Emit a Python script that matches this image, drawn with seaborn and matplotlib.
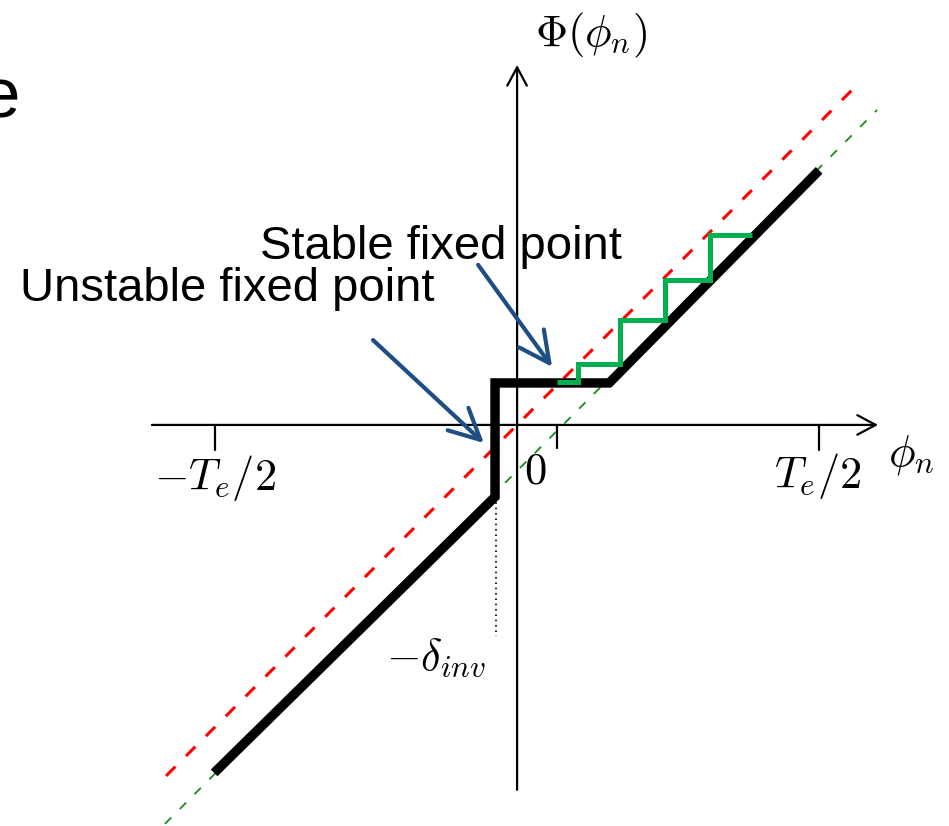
import matplotlib
matplotlib.use("Agg")
import matplotlib.pyplot as plt
import seaborn as sns

sns.set_theme(style="white")
plt.rcParams["font.family"] = ["Liberation Sans", "DejaVu Sans"]
plt.rcParams["mathtext.fontset"] = "cm"

# Phase map Phi(phi_n): two slope-one branches joined by a plateau
phi_curve = [-1.003, -0.073, -0.073, 0.305, 1.0]
Phi_curve = [-1.152, -0.238, 0.139, 0.139, 0.843]

# identity line Phi = phi
ident_x = [-1.162, 1.128]
ident_y = [-1.162, 1.128]

# shifted branch continued as a guide
shift_x = [-1.166, 1.192]
shift_y = [-1.321, 1.043]

# cobweb iteration converging onto the plateau
stair_x = [0.778, 0.639, 0.639, 0.490, 0.490, 0.341, 0.341, 0.202, 0.202, 0.132]
stair_y = [0.629, 0.629, 0.480, 0.480, 0.348, 0.348, 0.202, 0.202, 0.142, 0.142]

# axis extents, tick marks and labels
x_axis = [-1.209, 1.195]
y_axis = [-1.208, 1.192]
tick_x = [-1.0, 1.0]
tick_len = 0.083
fixed_tick = 0.132
delta_inv = -0.07

fig = plt.figure(figsize=(9.49, 8.26), dpi=100)
ax = fig.add_axes([0, 0, 1, 1])
ax.set_xlim(-1.712, 1.430)
ax.set_ylim(-1.328, 1.407)
ax.axis("off")

axis_kw = dict(arrowstyle="->,head_length=0.6,head_width=0.32", lw=1.6,
               color="black", mutation_scale=22, shrinkA=0, shrinkB=0)
ax.annotate("", xy=(x_axis[1], 0), xytext=(x_axis[0], 0), arrowprops=axis_kw, zorder=1)
ax.annotate("", xy=(0, y_axis[1]), xytext=(0, y_axis[0]), arrowprops=axis_kw, zorder=1)

for t in tick_x:
    ax.plot([t, t], [0, -tick_len], color="black", lw=1.6, zorder=1)
ax.plot([fixed_tick, fixed_tick], [0, -0.076], color="black", lw=1.6, zorder=1)

# dotted drop line at -delta_inv
ax.plot([delta_inv, delta_inv], [Phi_curve[1], -0.70], color="black",
        lw=1.2, linestyle=(0, (1, 2.2)), zorder=1)

sns.lineplot(x=shift_x, y=shift_y, ax=ax, color="#1a8a1a", lw=1.3,
             linestyle=(0, (5, 6.6)), sort=False, estimator=None, zorder=2)
sns.lineplot(x=ident_x, y=ident_y, ax=ax, color="#ff0000", lw=2.2,
             linestyle=(0, (4.3, 4.9)), sort=False, estimator=None, zorder=2)
sns.lineplot(x=phi_curve, y=Phi_curve, ax=ax, color="black", lw=6.8,
             sort=False, estimator=None, zorder=3,
             solid_joinstyle="miter", solid_capstyle="butt")
sns.lineplot(x=stair_x, y=stair_y, ax=ax, color="#00b050", lw=3.6,
             sort=False, estimator=None, zorder=4,
             solid_joinstyle="miter", solid_capstyle="butt")

math_kw = dict(fontsize=32, ha="center", va="center", color="black")
ax.text(0.245, 1.29, r"$\Phi(\phi_n)$", **math_kw)
ax.text(-1.0, -0.175, r"$-T_e/2$", **math_kw)
ax.text(0.995, -0.168, r"$T_e/2$", **math_kw)
ax.text(0.06, -0.155, r"$0$", **math_kw)
ax.text(1.305, -0.10, r"$\phi_n$", **math_kw)
ax.text(-0.268, -0.77, r"$-\delta_{inv}$", **math_kw)

arrow_kw = dict(arrowstyle="->,head_length=1.0,head_width=0.5", lw=3.0,
                color="#1f4e85", mutation_scale=22, shrinkA=0, shrinkB=0)
ax.annotate("", xy=(0.116, 0.192), xytext=(-0.129, 0.53), arrowprops=arrow_kw, zorder=5)
ax.annotate("", xy=(-0.110, -0.060), xytext=(-0.477, 0.281), arrowprops=arrow_kw, zorder=5)

ax.text(-0.850, 0.551, "Stable fixed point", fontsize=34, ha="left",
        va="baseline", color="black")
ax.text(-1.645, 0.411, "Unstable fixed point", fontsize=34, ha="left",
        va="baseline", color="black")

fig.text(20 / 949, 1 - 117 / 826, "e", fontsize=51, ha="right",
         va="baseline", color="black")

fig.savefig("out.png", dpi=100)
